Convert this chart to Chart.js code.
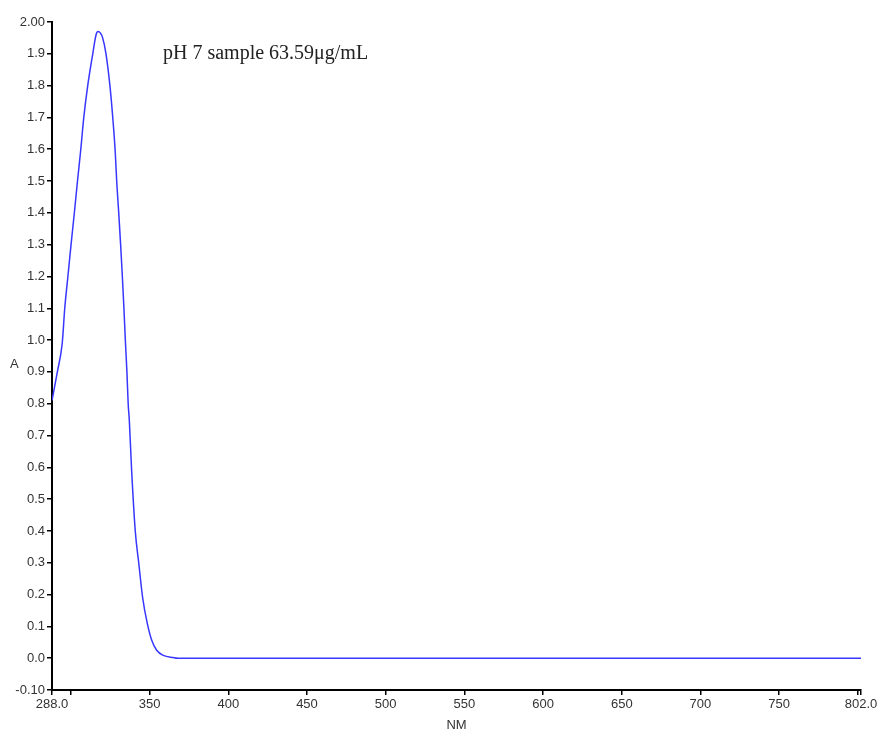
<!DOCTYPE html>
<html>
<head>
<meta charset="utf-8">
<script src="https://cdn.jsdelivr.net/npm/chart.js@4/dist/chart.umd.min.js"></script>
<style>
html,body{margin:0;padding:0;background:#fff;}
#wrap{width:881px;height:733px;position:relative;}
</style>
</head>
<body>
<div id="wrap"><canvas id="c" width="881" height="733"></canvas></div>
<script>
// Wavelength (nm) and absorbance
const wavelengths = [288, 291.4, 294.5, 296.1, 298.1, 300.1, 302.2, 304.2, 306.3, 308.2, 310.7, 313.9, 316, 317.2, 318.8, 320.2, 322.3, 324.8, 326.6, 328.2, 329.1, 330.4, 331.6, 332.7, 333.7, 334.6, 335.6, 336.4, 337.1, 338.6, 340.9, 343.1, 345.6, 348.5, 351.3, 354.5, 358.7, 365, 368, 802];
const absorbance  = [0.81, 0.90, 0.99, 1.10, 1.20, 1.30, 1.40, 1.50, 1.60, 1.70, 1.80, 1.90, 1.96, 1.97, 1.965, 1.95, 1.90, 1.80, 1.70, 1.59, 1.50, 1.40, 1.30, 1.20, 1.10, 1.00, 0.90, 0.80, 0.75, 0.59, 0.40, 0.30, 0.19, 0.11, 0.057, 0.025, 0.009, 0.002, 0, 0];

const xTickValues = [288, 300, 350, 400, 450, 500, 550, 600, 650, 700, 750, 800, 802];
const xTickLabels = ["288.0", "", "350", "400", "450", "500", "550", "600", "650", "700", "750", "", "802.0"];
const yTickValues = [-0.1, 0, 0.1, 0.2, 0.3, 0.4, 0.5, 0.6, 0.7, 0.8, 0.9, 1.0, 1.1, 1.2, 1.3, 1.4, 1.5, 1.6, 1.7, 1.8, 1.9, 2.0];
const yTickLabels = ["-0.10", "0.0", "0.1", "0.2", "0.3", "0.4", "0.5", "0.6", "0.7", "0.8", "0.9", "1.0", "1.1", "1.2", "1.3", "1.4", "1.5", "1.6", "1.7", "1.8", "1.9", "2.00"];

const chartTitle = "pH 7 sample 63.59\u03bcg/mL";
const yAxisTitle = "A";
const xAxisTitle = "NM";

const points = wavelengths.map((w, i) => ({x: w, y: absorbance[i]}));

const annotatePlugin = {
  id: 'annot',
  afterDraw(chart) {
    const ctx = chart.ctx;
    const area = chart.chartArea;
    ctx.save();
    ctx.fillStyle = '#222';
    ctx.font = '20px "Liberation Serif", "Times New Roman", serif';
    ctx.textBaseline = 'middle';
    ctx.textAlign = 'left';
    ctx.fillText(chartTitle, area.left + 111, area.top + 32);
    ctx.fillStyle = '#333';
    ctx.font = '13px "Liberation Sans", Arial, sans-serif';
    ctx.fillText(yAxisTitle, 10, (area.top + area.bottom) / 2 + 8);
    ctx.restore();
  }
};

new Chart(document.getElementById('c'), {
  type: 'line',
  data: {
    datasets: [{
      data: points,
      borderColor: 'rgb(55,55,255)',
      borderWidth: 1.5,
      pointRadius: 0,
      fill: false,
      cubicInterpolationMode: 'monotone'
    }]
  },
  options: {
    responsive: false,
    animation: false,
    devicePixelRatio: 1,
    layout: {padding: {left: 0, right: 20, top: 22, bottom: 0}},
    plugins: {legend: {display: false}, tooltip: {enabled: false}},
    scales: {
      x: {
        type: 'linear',
        min: 288, max: 802,
        afterBuildTicks(scale) { scale.ticks = xTickValues.map(v => ({value: v})); },
        afterFit(scale) { scale.height = 43; },
        ticks: {
          autoSkip: false,
          maxRotation: 0,
          padding: 2,
          color: '#333',
          font: {family: '"Liberation Sans", Arial, sans-serif', size: 13},
          callback(v) { const i = xTickValues.indexOf(v); return i >= 0 ? xTickLabels[i] : ''; }
        },
        grid: {drawOnChartArea: false, drawTicks: true, tickLength: 5, color: '#000', lineWidth: 1.5},
        border: {display: true, color: '#000', width: 2},
        title: {display: true, text: xAxisTitle, color: '#333', padding: {top: 2, bottom: 0},
                font: {family: '"Liberation Sans", Arial, sans-serif', size: 13}}
      },
      y: {
        type: 'linear',
        min: -0.1, max: 2.0,
        afterBuildTicks(scale) { scale.ticks = yTickValues.map(v => ({value: v})); },
        afterFit(scale) { scale.width = 52; },
        ticks: {
          autoSkip: false,
          padding: 2,
          color: '#333',
          font: {family: '"Liberation Sans", Arial, sans-serif', size: 13},
          callback(v) { const i = yTickValues.findIndex(t => Math.abs(t - v) < 1e-9); return i >= 0 ? yTickLabels[i] : ''; }
        },
        grid: {drawOnChartArea: false, drawTicks: true, tickLength: 5, color: '#000', lineWidth: 1.5},
        border: {display: true, color: '#000', width: 2}
      }
    }
  },
  plugins: [annotatePlugin]
});
</script>
</body>
</html>
